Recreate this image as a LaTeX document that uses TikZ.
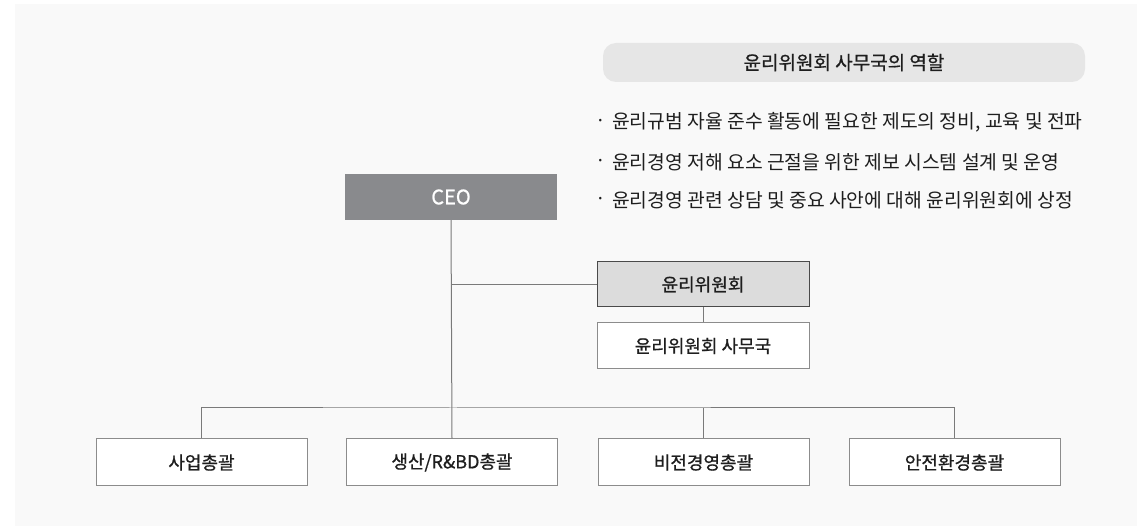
\documentclass[tikz,border=0pt]{standalone}
\usepackage{fontspec}
\setmainfont{Noto Sans CJK KR}
\newfontfamily\medfont[FakeBold=0.8]{Noto Sans CJK KR}
\definecolor{panel}{HTML}{F9F9F9}
\definecolor{pillc}{HTML}{E6E6E6}
\definecolor{ceoc}{HTML}{898A8D}
\definecolor{ethc}{HTML}{DCDCDC}
\definecolor{ethb}{HTML}{4A4A4A}
\definecolor{boxb}{HTML}{8C8C8C}
\definecolor{linec}{HTML}{7A7A7A}
\definecolor{txt}{HTML}{1E1E1E}
\begin{document}
\begin{tikzpicture}[x=1pt,y=-1pt,
  box/.style={draw=boxb,fill=white,line width=1pt,minimum width=211pt,minimum height=47pt,inner sep=0pt,text=txt,font=\medfont\fontsize{18}{20}\selectfont},
  ceobox/.style={fill=ceoc,minimum width=212pt,minimum height=46pt,inner sep=0pt,text=white,font=\medfont\fontsize{20}{22}\selectfont},
  ethbox/.style={box,fill=ethc,draw=ethb,minimum width=212pt,minimum height=45pt},
  pill/.style={fill=pillc,rounded corners=13pt,minimum width=482pt,minimum height=39pt,inner sep=0pt,text=txt,font=\medfont\fontsize{19}{21}\selectfont},
  item/.style={anchor=west,inner sep=0pt,text=txt,font=\fontsize{19.3}{21}\selectfont},
  dot/.style={inner sep=0pt,text=txt,font=\fontsize{19}{21}\selectfont},
  conn/.style={draw=linec,line width=1pt}]
\useasboundingbox (0,0) rectangle (1144,526);
\fill[panel] (15,4) rectangle (1137,526);
% role panel
\node[pill] (title) at (844,62.5) {윤리위원회 사무국의 역할};
\node[dot] (d1) at (601,123) {·};
\node[item] (t1) at (612,122) {윤리규범 자율 준수 활동에 필요한 제도의 정비, 교육 및 전파};
\node[dot] (d2) at (601,163) {·};
\node[item] (t2) at (612,162) {윤리경영 저해 요소 근절을 위한 제보 시스템 설계 및 운영};
\node[dot] (d3) at (601,201) {·};
\node[item] (t3) at (612,200) {윤리경영 관련 상담 및 중요 사안에 대해 윤리위원회에 상정};
% org chart
\node[ceobox] (ceo) at (451,197) {CEO};
\node[ethbox] (eth) at (703,284.5) {윤리위원회};
\node[box,minimum width=212pt,minimum height=46pt] (office) at (703,346) {윤리위원회 사무국};
\node[box] (b1) at (201.5,462.5) {사업총괄};
\node[box] (b2) at (452,462.5) {생산/R\&BD총괄};
\node[box] (b3) at (703.5,462.5) {비전경영총괄};
\node[box] (b4) at (954.5,462.5) {안전환경총괄};
\coordinate (bus) at (452,408);
\coordinate (j1) at (452,284.5);
\draw[conn] (ceo.south) -- (b2.north);
\draw[conn] (j1) -- (eth.west);
\draw[conn] (eth.south) -- (office.north);
\draw[conn] (b1.north) |- (bus) -| (b4.north);
\draw[conn] (b3.north) -- (b3.north |- bus);
\end{tikzpicture}
\end{document}
